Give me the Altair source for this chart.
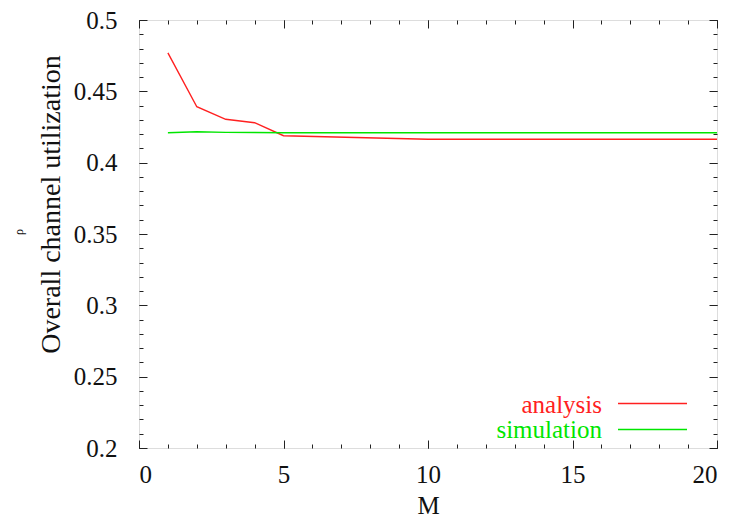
import altair as alt
import pandas as pd

# ---- data ----
m_analysis = [1, 2, 3, 4, 5, 10, 15, 20]
analysis = [0.477, 0.4392, 0.4304, 0.428, 0.4189, 0.4164, 0.4164, 0.4164]
m_simulation = [1, 2, 3, 4, 5, 10, 15, 20]
simulation = [0.421, 0.4217, 0.4212, 0.4211, 0.421, 0.421, 0.421, 0.421]
series_names = ["analysis", "simulation"]
series_colors = ["#ff2020", "#00e600"]

x_major = [0, 5, 10, 15, 20]
x_minor = list(range(0, 21))
y_major = [0.2, 0.25, 0.3, 0.35, 0.4, 0.45, 0.5]
y_minor = [round(0.2 + 0.01 * i, 2) for i in range(31)]

df = pd.concat([
    pd.DataFrame({"M": m_analysis, "value": analysis, "series": series_names[0]}),
    pd.DataFrame({"M": m_simulation, "value": simulation, "series": series_names[1]}),
])

FONT = "Liberation Serif"
W, H = 578, 428
xs = alt.Scale(domain=[0, 20], nice=False)
ys = alt.Scale(domain=[0.2, 0.5], nice=False, zero=False)

base = alt.Chart(df)

lines = base.mark_line(strokeWidth=1.4).encode(
    x=alt.X("M:Q", scale=xs, axis=alt.Axis(
        orient="bottom", values=x_major, ticks=False, tickSize=0, domain=False, grid=False,
        labelPadding=14, labelFontSize=25, labelFont=FONT, labelColor="#111",
        title="M", titleFont=FONT, titleFontSize=25, titleFontWeight="normal",
        titleColor="#111", titleX=W / 2, titleY=57, titleBaseline="middle", titleAlign="center")),
    y=alt.Y("value:Q", scale=ys, axis=alt.Axis(
        orient="left", values=y_major, ticks=False, tickSize=0, domain=False, grid=False,
        labelPadding=22, labelFontSize=25, labelFont=FONT, labelColor="#111",
        labelBaseline="middle", format="~g",
        title="Overall channel utilization", titleFont=FONT, titleFontSize=28,
        titleFontWeight="normal", titleColor="#111", titleAngle=270,
        titleX=-88, titleY=184, titleBaseline="middle", titleAlign="center")),
    color=alt.Color("series:N", scale=alt.Scale(domain=series_names, range=series_colors), legend=None),
)


def tick_layer(xorient, xvals, xsize, yorient, yvals, ysize):
    return base.mark_point(opacity=0).encode(
        x=alt.X("M:Q", scale=xs, axis=alt.Axis(
            orient=xorient, values=xvals, tickSize=xsize, offset=-xsize, labels=False,
            domain=False, grid=False, title=None, tickColor="#222", tickWidth=1)),
        y=alt.Y("value:Q", scale=ys, axis=alt.Axis(
            orient=yorient, values=yvals, tickSize=ysize, offset=-ysize, labels=False,
            domain=False, grid=False, title=None, tickColor="#222", tickWidth=1)),
    )


t1 = tick_layer("bottom", x_major, 8, "left", y_major, 8)
t2 = tick_layer("bottom", x_minor, 4, "left", y_minor, 4)
t3 = tick_layer("top", x_major, 8, "right", y_major, 8)
t4 = tick_layer("top", x_minor, 4, "right", y_minor, 4)

# in-plot legend (labels left of line samples)
leg_df = pd.DataFrame({"series": series_names})
leg_text_a = alt.Chart(leg_df).transform_filter(alt.datum.series == series_names[0]).mark_text(
    align="right", baseline="middle", font=FONT, fontSize=25, color=series_colors[0]
).encode(x=alt.value(463), y=alt.value(385), text="series:N")
leg_text_b = alt.Chart(leg_df).transform_filter(alt.datum.series == series_names[1]).mark_text(
    align="right", baseline="middle", font=FONT, fontSize=25, color=series_colors[1]
).encode(x=alt.value(463), y=alt.value(410), text="series:N")
leg_rule_a = alt.Chart(leg_df).transform_filter(alt.datum.series == series_names[0]).mark_rule(
    color=series_colors[0], strokeWidth=1.4
).encode(x=alt.value(479), x2=alt.value(548), y=alt.value(383.5))
leg_rule_b = alt.Chart(leg_df).transform_filter(alt.datum.series == series_names[1]).mark_rule(
    color=series_colors[1], strokeWidth=1.4
).encode(x=alt.value(479), x2=alt.value(548), y=alt.value(409.5))

rho = alt.Chart(pd.DataFrame({"t": ["ρ"]})).mark_text(
    angle=270, font=FONT, fontSize=12, color="#111", baseline="middle", align="center"
).encode(x=alt.value(-120), y=alt.value(212), text="t:N")

chart = alt.layer(
    lines, t1, t2, t3, t4, leg_text_a, leg_text_b, leg_rule_a, leg_rule_b, rho
).resolve_axis(x="independent", y="independent").properties(
    width=W, height=H,
    autosize=alt.AutoSizeParams(type="none"),
    padding={"left": 131, "top": 12, "right": 10, "bottom": 69},
).configure_view(stroke="#222", strokeWidth=1).configure_axis(
    labelFont=FONT, titleFont=FONT
).configure(background="white", font=FONT)

chart.save("out.html", embed_options={"renderer": "svg", "actions": False})
